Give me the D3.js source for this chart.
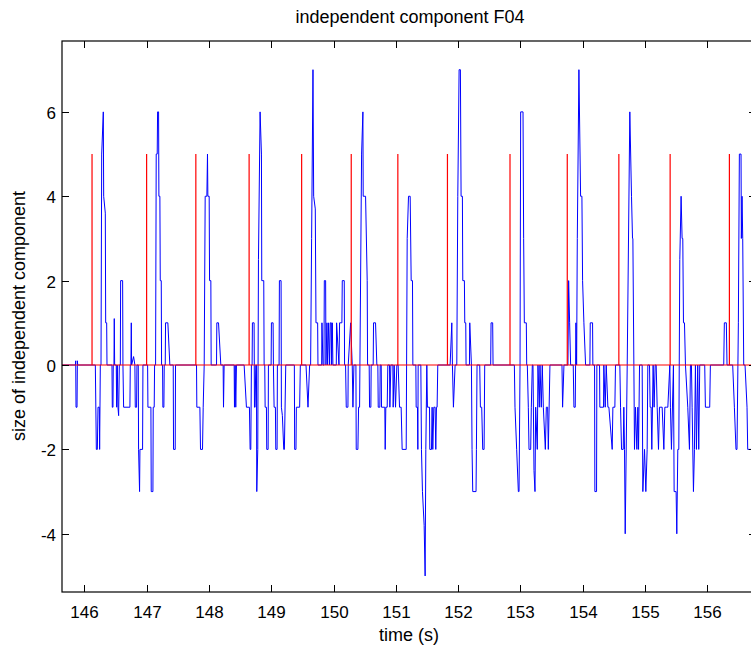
<!DOCTYPE html>
<html>
<head>
<meta charset="utf-8">
<script src="https://cdn.jsdelivr.net/npm/d3@7"></script>
<style>
  body { margin: 0; background: #fff; }
  svg { display: block; }
  text { font-family: "Liberation Sans", Arial, Helvetica, sans-serif; fill: #000; }
</style>
</head>
<body>
<svg id="chart" width="751" height="648"></svg>
<script>
// labels
const titleText = 'independent component F04';
const xLabel = 'time (s)';
const yLabel = 'size of independent component';
const xTicks = [146, 147, 148, 149, 150, 151, 152, 153, 154, 155, 156];
const yTicks = [-4, -2, 0, 2, 4, 6];

// red reference: stimulus events (0 -> 5 spikes)
const eventTimes = [146.124, 147.000, 147.790, 148.645, 149.488, 150.284, 151.032,
  151.828, 152.832, 153.751, 154.579, 155.402, 156.353];
const eventHeight = 5;

// blue: independent component, [time (s), value]
const icSamples = [
  [145.643,0],[145.857,0],[145.862,0.1],[145.867,-1],[145.883,-1],[145.889,0.1],[145.894,0],
  [146.177,0],[146.193,-2],[146.209,-2],[146.220,-1],[146.241,-1],[146.246,-2],[146.257,0],[146.268,0],
  [146.279,5],[146.305,6],[146.311,4],[146.337,3.6],[146.343,1],[146.359,1],[146.364,0],
  [146.444,0],[146.449,-1],[146.460,-1],[146.465,0],[146.476,0],[146.481,1.1],[146.487,0],[146.513,0],
  [146.519,-1],[146.529,0],[146.540,-1],[146.551,-1.2],[146.562,0],[146.578,0],[146.583,2],[146.615,2],
  [146.620,0],[146.631,-1],[146.732,-1],[146.738,0],[146.748,0],[146.754,1],[146.759,0],[146.791,0.2],
  [146.812,0],[146.818,-1],[146.839,-1],[146.845,0],[146.866,0],[146.871,-2],[146.887,-3],[146.893,-2],
  [146.935,-2],[146.941,0],
  [147.016,0],[147.021,-1],[147.069,-1],[147.074,-3],[147.101,-3],[147.106,-1],[147.122,-1],[147.128,0],
  [147.144,0],[147.154,5],[147.170,5],[147.176,6],[147.192,6],[147.197,4],[147.213,4],[147.219,2],
  [147.235,2],[147.240,0],[147.256,0],[147.261,-1],[147.277,-1],[147.283,0],[147.299,0],[147.304,1],
  [147.341,1],[147.373,0],[147.427,0],[147.432,-2],[147.459,-2],[147.464,0],
  [147.801,0],[147.806,-1],[147.855,-1],[147.865,-2],[147.897,-2],[147.908,-1],[147.924,0],[147.940,4],
  [147.967,4],[147.977,5],[147.983,4],[148.004,4],[148.010,2],[148.031,2],[148.036,0],[148.122,0],
  [148.127,1],[148.154,1],[148.191,0],[148.228,0],[148.234,-1],[148.244,0],[148.405,0],[148.410,-1],
  [148.421,0],[148.431,-1],[148.442,0],[148.565,0],[148.602,-1],[148.650,-1],[148.661,-2],[148.672,-2],
  [148.682,0],[148.693,0],[148.698,1],[148.725,1],[148.731,-1],[148.741,-1],[148.752,0],[148.763,0],
  [148.768,-3],[148.784,-2],[148.795,2.5],[148.821,6],[148.843,5],[148.848,2],[148.880,2],[148.886,0],
  [148.896,0],[148.902,-1],[148.923,-1],[148.928,-2],[148.950,-2],[148.955,0],[148.998,0],[149.003,1],
  [149.030,1],[149.035,0],[149.046,-1],[149.067,-1],[149.073,-2],[149.094,-2],[149.099,0],[149.126,0],
  [149.131,2],[149.158,2],[149.163,-1],[149.179,-1.2],[149.201,-2],[149.211,-2],[149.233,0],
  [149.371,0],[149.376,-2],[149.397,-2],[149.403,-1],[149.456,-1],[149.467,0],[149.558,0],[149.590,-1],
  [149.616,0],[149.632,0],[149.648,3],[149.670,7],[149.681,4],[149.707,3.7],[149.718,1],[149.745,1],
  [149.750,0],[149.809,0],[149.814,1],[149.830,0],[149.846,0],[149.852,2],[149.873,2],[149.878,0],
  [149.894,1],[149.905,0],[149.921,1],[149.937,0],[149.948,1],[149.964,1],[149.969,0],[149.980,1],
  [149.990,0],[150.044,0],[150.049,1],[150.087,0],[150.097,1],[150.134,1],[150.140,2],[150.172,2],
  [150.177,0],[150.193,0],[150.204,-1],[150.231,-1],[150.236,0],[150.274,1],[150.300,0],[150.311,-1],
  [150.327,0],[150.359,0],[150.364,-2],[150.391,-2],[150.402,-1],[150.418,-1],[150.450,5],[150.471,6],
  [150.476,4],[150.514,4],[150.540,2],[150.546,0],[150.572,0],[150.578,-1],[150.599,-1],[150.604,0],
  [150.636,0],[150.642,1],[150.674,1],[150.695,0],[150.711,0],[150.717,-1],[150.743,-1],[150.749,0],
  [150.765,0],[150.770,-1],[150.823,-1],[150.829,-2],[150.839,-1],[150.861,-1],[150.871,0],[150.898,0],
  [150.904,-1],[150.920,0],[150.952,0],[150.957,-1],[150.973,0],[150.995,-1],[151.016,0],[151.037,0],
  [151.059,-1],[151.085,-1],[151.101,-2],
  [151.166,-2],[151.182,3],[151.203,4],[151.230,4],[151.246,2],[151.267,2],[151.273,0],[151.321,0],
  [151.326,-1],[151.347,-1],[151.353,-2],[151.358,0],[151.401,0],[151.411,-2],[151.427,-3],[151.454,-3.8],
  [151.470,-5],[151.481,-2],[151.497,0],[151.507,-1],[151.540,-1],[151.545,-2],[151.572,-2],[151.582,-1],
  [151.593,-2],[151.609,-1],[151.630,-1],[151.641,-2],[151.652,-1],[151.662,-1],[151.673,0],[151.871,0],
  [151.898,1],[151.908,0],[151.924,-1],[151.951,0],[151.978,0],[151.994,4],[152.015,7],[152.036,7],
  [152.047,4],[152.068,4],[152.074,2],[152.100,2],[152.106,1],[152.122,1],[152.127,0],[152.181,0],
  [152.186,1],[152.213,0],[152.223,-2],[152.234,-3],[152.287,-3],[152.293,-2],[152.303,0],[152.346,0],
  [152.357,-1],[152.378,-1],[152.394,-2],[152.416,-2],[152.426,0],[152.522,0],[152.528,1],[152.554,1],
  [152.560,0],[152.902,0],[152.912,-1],[152.939,-2],[152.966,-3],
  [152.977,-3],[152.993,0],[153.003,6],[153.041,6],[153.051,3],[153.062,1],[153.094,1],[153.100,0],
  [153.110,0],[153.126,-1],[153.137,-2],[153.164,-2],[153.174,-1],[153.190,0],[153.201,0],[153.217,-2.5],
  [153.233,-3],[153.244,-1],[153.270,-2],[153.281,0],[153.302,-1],[153.313,0],[153.334,-1],[153.350,0],
  [153.367,-1],[153.399,-2],[153.415,-1],[153.436,-1],[153.447,-2],[153.473,0],[153.666,0],[153.676,-1],
  [153.698,0],[153.762,0],[153.773,2],[153.789,1],[153.805,0],[153.847,0],[153.858,-1],[153.879,-1],
  [153.890,1],[153.901,0],[153.912,3],[153.938,7],[153.965,4],[153.986,4],[153.997,2],[154.018,1],
  [154.045,0],[154.114,0],[154.120,1],[154.157,1],[154.162,0],[154.189,0],[154.194,-3],[154.221,-3],
  [154.226,0],[154.269,0],[154.274,-1],[154.333,-1],[154.338,0],[154.360,-1],[154.376,0],[154.403,-1],
  [154.419,-1],[154.472,-2],[154.483,-1],[154.515,-1],[154.525,0],[154.595,0],[154.606,-1],[154.622,-2],
  [154.649,-2],[154.659,-1],[154.670,-2],[154.681,-4],[154.713,0],[154.755,6],[154.782,4],[154.798,3],
  [154.804,3],[154.820,0],[154.830,-2],[154.846,-1],[154.868,-2],[154.884,-1],[154.895,-2],[154.911,0],
  [154.953,0],[154.964,-3],[154.991,-2],[155.012,-3],[155.033,-2],[155.044,0],[155.071,0],[155.081,-1],
  [155.097,-1],[155.108,-2],[155.129,0],[155.145,-1],[155.162,0],[155.178,0],[155.194,-1],[155.215,-2],
  [155.231,-1],[155.274,-1],[155.301,-2],[155.317,-1],[155.343,-1],[155.365,-1],[155.397,0],[155.407,-1],
  [155.423,-2],[155.455,0],[155.466,-3],[155.498,-3],[155.509,-4],[155.525,-2],[155.541,-2],[155.557,2.5],
  [155.578,4],[155.594,3],[155.605,3],[155.616,1],[155.632,1],[155.648,0],[155.685,-1],[155.712,-2],
  [155.728,0],[155.744,0],[155.755,-1],[155.776,-3],[155.792,-2],[155.808,0],[155.824,-2],[155.845,0],
  [155.861,-2],[155.877,0],[155.957,0],[155.968,-1],[156.037,-1],[156.048,0],[156.262,0],[156.272,1],
  [156.304,1],[156.315,0],[156.406,0],[156.433,-1],[156.459,-2],[156.475,-2],[156.497,1],[156.513,5],
  [156.540,5],[156.545,3],[156.556,4],[156.567,3],[156.583,0],[156.604,0],[156.636,-1],[156.647,-2],
  [156.684,-2],[156.720,-2]
];

const svg = d3.select('#chart');
const m = { left: 62, top: 41, bottom: 592, right: 756 };

const x = d3.scaleLinear().domain([145.642, 156.78]).range([m.left, m.right]);
const y = d3.scaleLinear().domain([-5.38, 7.68]).range([m.bottom, m.top]);

svg.append('defs').append('clipPath').attr('id', 'plotclip')
  .append('rect')
    .attr('x', m.left).attr('y', m.top)
    .attr('width', m.right - m.left).attr('height', m.bottom - m.top);

const plot = svg.append('g').attr('clip-path', 'url(#plotclip)');

// blue signal
const line = d3.line().x(d => x(d[0])).y(d => y(d[1]));
plot.append('path')
  .datum(icSamples)
  .attr('d', line)
  .attr('fill', 'none')
  .attr('stroke', '#0000ff')
  .attr('stroke-width', 1);

// red events on top: baseline at zero with a spike at each event
const [t0, t1] = x.domain();
const redPts = [[t0, 0]];
eventTimes.forEach(t => { redPts.push([t, 0], [t, eventHeight], [t, 0]); });
redPts.push([t1, 0]);
plot.append('path')
  .datum(redPts)
  .attr('d', line)
  .attr('fill', 'none')
  .attr('stroke', '#ff0000')
  .attr('stroke-width', 1.2);

// axes box (MATLAB style, ticks inward on all sides)
const tickLen = 7;
const axes = svg.append('g');
axes.append('rect')
  .attr('x', m.left).attr('y', m.top)
  .attr('width', m.right - m.left).attr('height', m.bottom - m.top)
  .attr('fill', 'none').attr('stroke', '#000').attr('stroke-width', 1.2);

xTicks.forEach(t => {
  const px = Math.round(x(t)) + 0.5;
  axes.append('line').attr('x1', px).attr('x2', px).attr('y1', m.bottom).attr('y2', m.bottom - tickLen)
    .attr('stroke', '#000');
  axes.append('line').attr('x1', px).attr('x2', px).attr('y1', m.top).attr('y2', m.top + tickLen)
    .attr('stroke', '#000');
  axes.append('text').attr('x', px).attr('y', 618)
    .attr('text-anchor', 'middle').attr('font-size', 17).text(t);
});

yTicks.forEach(v => {
  const py = Math.round(y(v)) + 0.5;
  axes.append('line').attr('x1', m.left).attr('x2', m.left + tickLen).attr('y1', py).attr('y2', py)
    .attr('stroke', '#000');
  axes.append('line').attr('x1', m.right).attr('x2', m.right - tickLen).attr('y1', py).attr('y2', py)
    .attr('stroke', '#000');
  axes.append('text').attr('x', 56).attr('y', py).attr('dy', '0.36em')
    .attr('text-anchor', 'end').attr('font-size', 17).text(v);
});

svg.append('text').attr('x', 410).attr('y', 23)
  .attr('text-anchor', 'middle').attr('font-size', 18).text(titleText);

svg.append('text').attr('x', 409).attr('y', 641)
  .attr('text-anchor', 'middle').attr('font-size', 18).text(xLabel);

svg.append('text')
  .attr('transform', 'translate(25,316) rotate(-90)')
  .attr('text-anchor', 'middle').attr('font-size', 18).text(yLabel);
</script>
</body>
</html>
